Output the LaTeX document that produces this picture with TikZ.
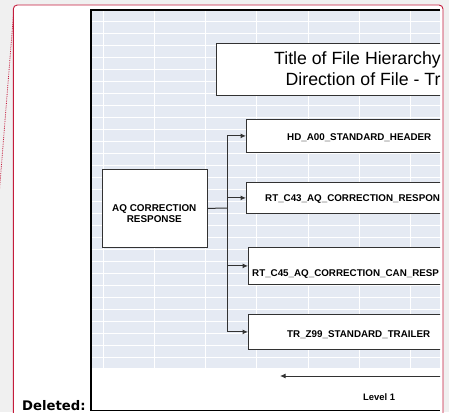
\documentclass[tikz,border=0pt]{standalone}
\usepackage{fontspec}
\setmainfont{Liberation Sans}
\newfontfamily\markfont{DejaVu Sans}
\usetikzlibrary{arrows.meta}
\definecolor{pagegray}{RGB}{240,240,240}
\definecolor{revred}{RGB}{196,28,60}
\definecolor{gridfill}{RGB}{229,234,243}
\definecolor{boxline}{RGB}{50,50,50}
\tikzset{bx/.style = {draw=boxline, fill=white, line width=0.8pt, inner sep=0pt, anchor=north west},
         lb/.style = {inner sep=0pt, anchor=base west, font=\fontsize{9.8}{11}\selectfont\bfseries},
         tl/.style = {inner sep=0pt, anchor=base west, font=\fontsize{17.7}{21}\selectfont},
         cn/.style = {draw=boxline, line width=1pt}}

\begin{document}
\begin{tikzpicture}[x=1pt, y=-1pt, >={Latex[length=5.5pt, width=5pt]}]
  \useasboundingbox (0,0) rectangle (449,412);
  \clip (0,0) rectangle (449,412);
  \fill[pagegray] (0,0) rectangle (449,412);
  \draw[revred, fill=white, line width=0.9pt, rounded corners=4pt] (13.3,5) rectangle (443,440);
  \coordinate (cm) at (13.3,17); \coordinate (cmend) at (-1,196);
  \draw[revred, densely dotted, line width=0.8pt] (cm) -- (cmend);
  \begin{scope}
    \clip (91,10) rectangle (440,411);
    \fill[gridfill] (91,10) rectangle (440,368);
    \foreach \y in {0,...,28} \draw[white, line width=0.9pt] (91,{21+12*\y}) -- (440,{21+12*\y});
    \foreach \x in {0,...,6} \draw[white, line width=0.9pt] ({103+51.3*\x},10) -- ({103+51.3*\x},368);
    \node[bx, minimum width=300pt, minimum height=52pt] (title) at (216,43) {};
    \node[bx, minimum width=105pt, minimum height=78pt] (aq)  at (102,169) {};
    \node[bx, minimum width=228pt, minimum height=33pt] (hd)  at (246,119) {};
    \node[bx, minimum width=228pt, minimum height=31pt] (c43) at (246,182) {};
    \node[bx, minimum width=224pt, minimum height=37pt] (c45) at (248,247) {};
    \node[bx, minimum width=224pt, minimum height=35pt] (tr)  at (248,314) {};
    \node[tl] (ttla) at (274,64.7) {Title of File Hierarchy};
    \node[tl] (ttlb) at (285.5,85.3) {Direction of File - Tr};
    \node[lb, anchor=center, align=center, font=\fontsize{9.9}{11}\selectfont\bfseries] (aqtxt) at (154.3,213.8) {AQ CORRECTION\\RESPONSE};
    \node[lb] (hdtxt)  at (287,140.6) {HD\_A00\_STANDARD\_HEADER};
    \node[lb] (c43txt) at (265,201.1) {RT\_C43\_AQ\_CORRECTION\_RESPON};
    \node[lb] (c45txt) at (252,276.7) {RT\_C45\_AQ\_CORRECTION\_CAN\_RESP};
    \node[lb] (trtxt)  at (287,337.4) {TR\_Z99\_STANDARD\_TRAILER};
    \coordinate (jn) at (227.3,208);
    \draw[cn] (aq.east) -- (jn);
    \draw[cn, ->] (jn) |- (hd.west);
    \draw[cn, ->] (jn) |- (c43.west);
    \draw[cn, ->] (jn) |- (c45.west);
    \draw[cn, ->] (jn) |- (tr.west);
    \coordinate (lvr) at (446,376); \coordinate (lvl) at (280,376);
    \draw[cn, ->] (lvr) -- (lvl);
    \node[lb, font=\fontsize{9.4}{11}\selectfont\bfseries] (lev) at (363,400.4) {Level 1};
  \end{scope}
  \draw[line width=1.6pt] (440,10) -- (91,10) -- (91,410.5) -- (440,410.5);
  \node[inner sep=0pt, anchor=base west, font=\markfont\fontsize{13.2}{16}\selectfont\bfseries] (del) at (22,410.3) {Deleted:};
\end{tikzpicture}
\end{document}
